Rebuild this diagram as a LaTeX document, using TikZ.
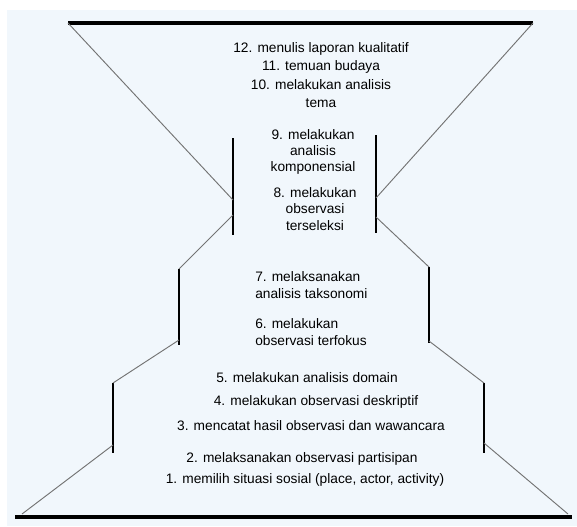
\documentclass[tikz,border=0pt]{standalone}
\usepackage{fontspec}
\setmainfont{Liberation Sans}
\definecolor{paleblue}{RGB}{241,247,252}

\begin{document}
\begin{tikzpicture}[x=0.75pt,y=-0.75pt]

      \useasboundingbox (0,0) rectangle (577,526);
      \fill[paleblue] (7,10) rectangle (577,526);

      % top and bottom rim
      \coordinate (tl) at (68,23);
      \coordinate (tr) at (533,23);
      \coordinate (bl) at (15,517);
      \coordinate (br) at (572,517);
      \coordinate (lb) at (22,514);
      \coordinate (rb) at (568,514);

      % bars, left and right
      \coordinate (l1t) at (233,138);
      \coordinate (l1b) at (233,235);
      \coordinate (l1u) at (233,200);
      \coordinate (l1d) at (233,215);
      \coordinate (r1t) at (376,135);
      \coordinate (r1b) at (376,233);
      \coordinate (r1u) at (376,198);
      \coordinate (r1d) at (376,217);
      \coordinate (l2t) at (179,269);
      \coordinate (l2b) at (179,345);
      \coordinate (l2d) at (179,340);
      \coordinate (r2t) at (429,267);
      \coordinate (r2b) at (429,343);
      \coordinate (r2d) at (429,341);
      \coordinate (l3t) at (113,383);
      \coordinate (l3b) at (113,453);
      \coordinate (l3d) at (113,445);
      \coordinate (r3t) at (484,383);
      \coordinate (r3b) at (484,453);
      \coordinate (r3d) at (484,443);

      \begin{scope}[every edge/.style={draw,line width=2.4pt}]
        \path (tl)  edge (tr);
        \path (bl)  edge (br);
      \end{scope}

      \begin{scope}[every edge/.style={draw,line width=2pt}]
        \path (l1t) edge (l1b);
        \path (r1t) edge (r1b);
        \path (l2t) edge (l2b);
        \path (r2t) edge (r2b);
        \path (l3t) edge (l3b);
        \path (r3t) edge (r3b);
      \end{scope}

      \begin{scope}[every edge/.style={draw,black!55,line width=0.7pt}]
        \path (tl)  edge (l1u);
        \path (tr)  edge (r1u);
        \path (l1d) edge (l2t);
        \path (r1d) edge (r2t);
        \path (l2d) edge (l3t);
        \path (r2d) edge (r3t);
        \path (l3d) edge (lb);
        \path (r3d) edge (rb);
      \end{scope}

      \begin{scope}[every node/.style={font=\fontsize{10.3}{12.2}\selectfont,align=center,inner sep=0pt}]
        \node[font=\fontsize{10.3}{13.9}\selectfont] (t12) at (321,75) {12. menulis laporan kualitatif\\11. temuan budaya\\10. melakukan analisis\\tema};
        \node (t9)  at (313,152) {9. melakukan\\analisis\\komponensial};
        \node (t8)  at (315,209) {8. melakukan\\observasi\\terseleksi};
        \node[anchor=west,align=left] (t7) at (255,285) {7. melaksanakan\\analisis taksonomi};
        \node[anchor=west,align=left] (t6) at (255,332) {6. melakukan\\observasi terfokus};
        \node (t5)  at (307,378) {5. melakukan analisis domain};
        \node (t4)  at (316,402) {4. melakukan observasi deskriptif};
        \node (t3)  at (311,426) {3. mencatat hasil observasi dan wawancara};
        \node (t2)  at (302,459) {2. melaksanakan observasi partisipan};
        \node (t1)  at (305,480) {1. memilih situasi sosial (place, actor, activity)};
      \end{scope}

    \end{tikzpicture}
\end{document}
